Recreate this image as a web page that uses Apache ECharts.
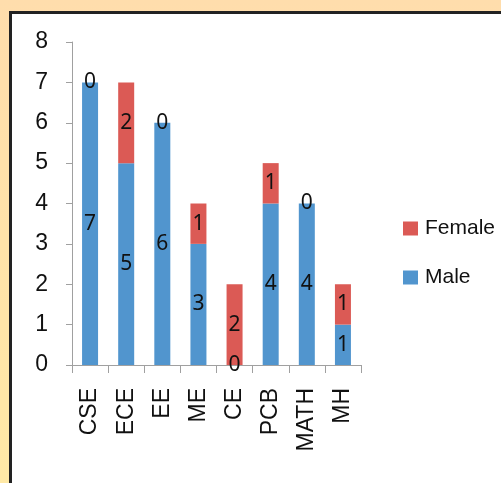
<!DOCTYPE html>
<html><head><meta charset="utf-8">
<script src="https://cdn.jsdelivr.net/npm/echarts@6/dist/echarts.min.js"></script>
<style>html,body{margin:0;padding:0;}#c{width:501px;height:483px;}</style>
</head><body><div id="c"></div>
<script>
const categories = ['CSE','ECE','EE','ME','CE','PCB','MATH','MH'];
const maleValues = [7,5,6,3,0,4,4,1];
const femaleValues = [0,2,0,1,2,1,0,1];
const yTicks = [0,1,2,3,4,5,6,7,8];

const chart = echarts.init(document.getElementById('c'), null, {renderer:'canvas'});
const labelStyle = {show:true, position:'inside', color:'#111', fontFamily:'Noto Sans', fontSize:21};
chart.setOption({
  animation:false,
  graphic:[
    {type:'rect', z:-10, silent:true, shape:{x:0,y:0,width:501,height:483},
     style:{fill:new echarts.graphic.LinearGradient(0,0,0,1,[{offset:0,color:'#FFDDAC'},{offset:1,color:'#FFE9A6'}])}},
    {type:'rect', z:-9, silent:true, shape:{x:10.5,y:12.5,width:600,height:600},
     style:{fill:'#ffffff', stroke:'#222222', lineWidth:3}}
  ],
  grid:{left:72, right:140, top:42, bottom:118},
  legend:{
    data:['Female','Male'], orient:'vertical', left:398, top:213,
    itemWidth:15, itemHeight:14, itemGap:28, icon:'rect',
    textStyle:{fontFamily:'Liberation Sans', fontSize:21, color:'#111', padding:[0,0,0,2]}
  },
  xAxis:{
    type:'category', data:categories,
    axisLine:{lineStyle:{color:'#A0A0A0', width:1}},
    axisTick:{show:true, length:8, lineStyle:{color:'#A0A0A0'}},
    axisLabel:{rotate:90, margin:23, fontFamily:'Liberation Sans', fontSize:23, color:'#111'}
  },
  yAxis:{
    type:'value', min:yTicks[0], max:yTicks[yTicks.length-1], interval:1,
    splitLine:{show:false},
    axisLine:{show:true, lineStyle:{color:'#A0A0A0', width:1}},
    axisTick:{show:true, length:6, lineStyle:{color:'#A0A0A0'}},
    axisLabel:{margin:24, fontFamily:'Liberation Sans', fontSize:23, color:'#111'}
  },
  series:[
    {name:'Male', type:'bar', stack:'s', data:maleValues, barWidth:16,
     itemStyle:{color:'#5195CE'}, label:labelStyle},
    {name:'Female', type:'bar', stack:'s', data:femaleValues, barWidth:16,
     itemStyle:{color:'#DB5A55'}, label:labelStyle}
  ]
});
</script></body></html>
